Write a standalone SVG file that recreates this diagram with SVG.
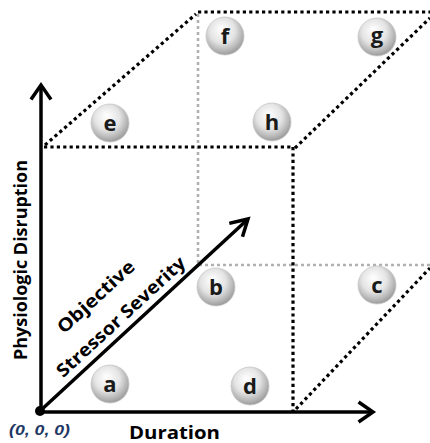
<svg xmlns="http://www.w3.org/2000/svg" width="430" height="443" viewBox="0 0 430 443">
<style>
.blk{fill:none;stroke:#000;stroke-width:3.2;stroke-dasharray:3.2 3.2}
.gry{fill:none;stroke:#b0b0b0;stroke-width:2.6;stroke-dasharray:3 3}
.axis{fill:none;stroke:#000;stroke-width:3.5}
.head{fill:none;stroke:#000;stroke-width:3.5;stroke-linecap:square;stroke-linejoin:miter}
.ball{fill:url(#bg);stroke:#c8c8c8;stroke-width:0.8}
.lbl{font-family:"Open Sans","Liberation Sans",sans-serif;font-weight:bold;font-size:22px;fill:#1a1a1a;text-anchor:middle}
.ax{font-family:"Open Sans","Liberation Sans",sans-serif;font-weight:bold;fill:#000}
</style>
<defs>
<radialGradient id="bg" cx="0.45" cy="0.4" r="0.6" fx="0.4" fy="0.3">
<stop offset="0" stop-color="#ffffff"/>
<stop offset="0.55" stop-color="#e4e4e4"/>
<stop offset="0.85" stop-color="#b5b5b5"/>
<stop offset="1" stop-color="#9a9a9a"/>
</radialGradient>
</defs>
<g id="connectors">
<polyline class="gry" points="198,14 198,265 430,265"/>
<line class="blk" x1="44" y1="147" x2="293" y2="147"/>
<line class="blk" x1="293" y1="147" x2="293" y2="411"/>
<line class="blk" x1="45" y1="145" x2="196" y2="14"/>
<line class="blk" x1="198" y1="12" x2="430" y2="12"/>
<line class="blk" x1="295" y1="148" x2="430" y2="18"/>
<line class="blk" x1="296" y1="409" x2="430" y2="268"/>
<line class="axis" x1="41" y1="411" x2="41" y2="86"/>
<polyline class="head" points="32,98 41,85 50,98"/>
<line class="axis" x1="40" y1="412" x2="373" y2="412"/>
<polyline class="head" points="360,403 373,412 360,421"/>
<line class="axis" x1="40" y1="411" x2="247" y2="220"/>
<polyline class="head" points="231,223 248,219 243,235"/>
<circle cx="40" cy="411" r="5" fill="#000"/>
</g>
<g id="node-a"><circle class="ball" cx="110" cy="384" r="19"/><text class="lbl" x="110" y="392">a</text></g>
<g id="node-b"><circle class="ball" cx="216" cy="287" r="19"/><text class="lbl" x="216" y="295">b</text></g>
<g id="node-c"><circle class="ball" cx="377" cy="285" r="19"/><text class="lbl" x="377" y="293">c</text></g>
<g id="node-d"><circle class="ball" cx="250" cy="386" r="19"/><text class="lbl" x="250" y="394">d</text></g>
<g id="node-e"><circle class="ball" cx="110" cy="123" r="19"/><text class="lbl" x="110" y="131">e</text></g>
<g id="node-f"><circle class="ball" cx="225" cy="36" r="19"/><text class="lbl" x="225" y="44">f</text></g>
<g id="node-g"><circle class="ball" cx="377" cy="37" r="19"/><text class="lbl" x="377" y="43">g</text></g>
<g id="node-h"><circle class="ball" cx="272" cy="122" r="19"/><text class="lbl" x="272" y="130">h</text></g>
<g id="labels">
<text class="ax" font-size="18" transform="translate(27,260) rotate(-90)" text-anchor="middle" textLength="200" lengthAdjust="spacingAndGlyphs">Physiologic Disruption</text>
<text class="ax" font-size="18" x="129" y="439" textLength="91" lengthAdjust="spacingAndGlyphs">Duration</text>
<text font-family="Liberation Sans,sans-serif" font-weight="bold" font-style="italic" font-size="14" fill="#1f3864" x="9" y="435" textLength="61" lengthAdjust="spacingAndGlyphs">(0, 0, 0)</text>
<text class="ax" font-size="18" transform="translate(96,297) rotate(-42.6)" text-anchor="middle" x="0" y="6" textLength="98" lengthAdjust="spacingAndGlyphs">Objective</text>
<text class="ax" font-size="18" transform="translate(121,317) rotate(-42.6)" text-anchor="middle" x="0" y="6" textLength="168" lengthAdjust="spacingAndGlyphs">Stressor Severity</text>
</g>
</svg>
